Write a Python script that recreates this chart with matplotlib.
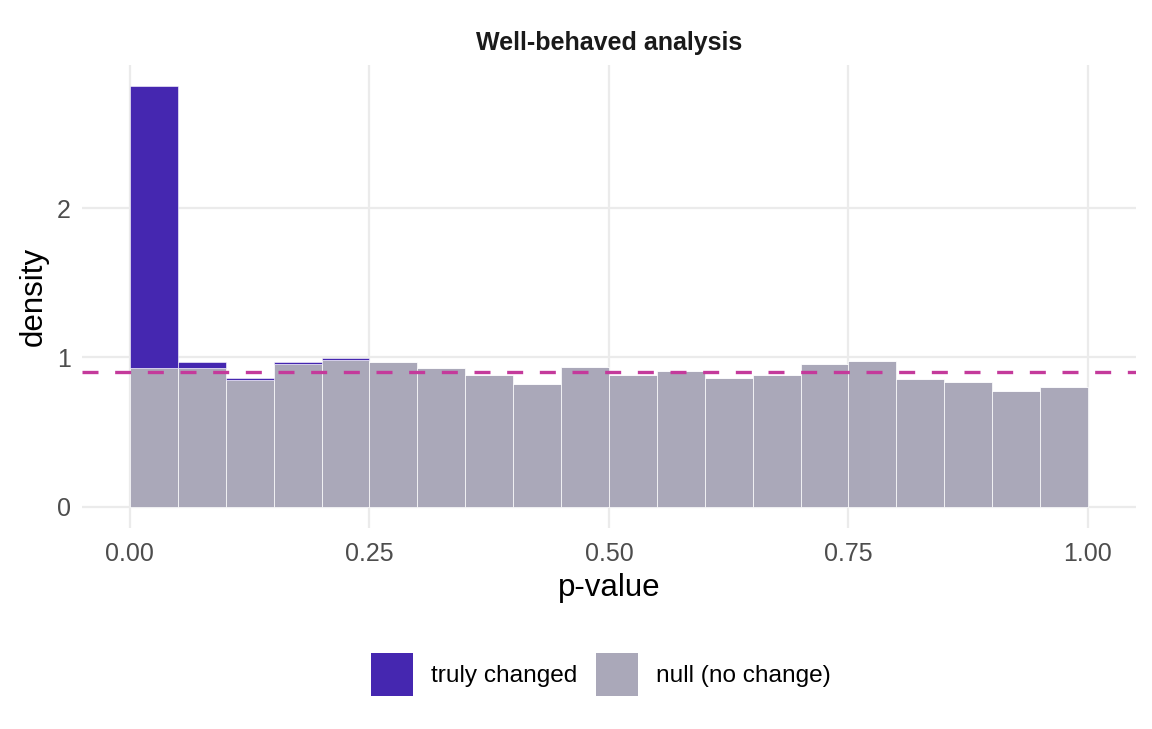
import numpy as np
import matplotlib.pyplot as plt
from matplotlib.patches import Patch

plt.rcParams['font.family'] = ['Liberation Sans', 'DejaVu Sans']

# histogram bins (width 0.05) and densities
bin_esq = np.arange(0, 1.0, 0.05)
nulo = [0.932, 0.930, 0.852, 0.954, 0.985, 0.970, 0.930, 0.885, 0.825, 0.936,
        0.885, 0.910, 0.863, 0.885, 0.957, 0.977, 0.856, 0.836, 0.776, 0.803]
alterado = [1.884, 0.040, 0.009, 0.016, 0.014, 0, 0, 0, 0, 0,
            0, 0, 0, 0, 0, 0, 0, 0, 0, 0]
linha_ref = 0.90

cor_alt = '#4527B0'
cor_nulo = '#AAA8B9'
cor_linha = '#C43A9B'

fig = plt.figure(figsize=(11.52, 7.29), dpi=100)
ax = fig.add_axes([0.0712, 0.2757, 0.9148, 0.6351])

ax.bar(bin_esq, nulo, width=0.05, align='edge', color=cor_nulo,
       edgecolor='white', linewidth=0.5, zorder=2)
ax.bar(bin_esq, alterado, width=0.05, align='edge', bottom=nulo, color=cor_alt,
       edgecolor='white', linewidth=0.4, zorder=2)
ax.axhline(linha_ref, color=cor_linha, linestyle=(0, (4.8, 5.0)), linewidth=2.4, zorder=3)

ax.set_xlim(-0.05, 1.05)
ax.set_ylim(-0.141, 2.957)
ax.set_xticks([0, 0.25, 0.5, 0.75, 1.0])
ax.set_xticklabels(['0.00', '0.25', '0.50', '0.75', '1.00'])
ax.set_yticks([0, 1, 2])
ax.grid(True, color='#EBEBEB', linewidth=1.6, zorder=0)
ax.set_axisbelow(True)
for s in ax.spines.values():
    s.set_visible(False)
ax.tick_params(axis='x', pad=10)
ax.tick_params(length=0, labelsize=18, labelcolor='#4D4D4D')
ax.tick_params(axis='y', pad=8)

ax.set_xlabel('p-value', fontsize=22.5, labelpad=5)
ax.set_ylabel('density', fontsize=22.5, labelpad=6)
ax.set_title('Well-behaved analysis', fontsize=18, fontweight='bold', pad=11,
             color='#1A1A1A')

itens = [Patch(facecolor=cor_alt, edgecolor='none', label='truly changed'),
         Patch(facecolor=cor_nulo, edgecolor='none', label='null (no change)')]
fig.legend(handles=itens, loc='center', bbox_to_anchor=(0.5215, 0.0754), ncol=2,
           frameon=False, fontsize=17.6, handlelength=1.72, handleheight=2.33,
           handletextpad=0.75, columnspacing=0.74)

fig.savefig('out.png', dpi=100)
